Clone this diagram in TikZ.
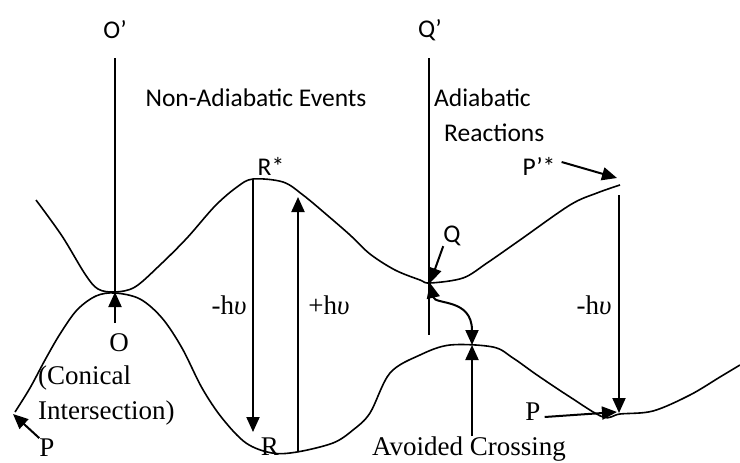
\documentclass[tikz,border=0pt]{standalone}
\usepackage{fontspec}
\setmainfont{Liberation Serif}
\newfontfamily\calfont{Carlito}
\usetikzlibrary{arrows.meta}

\begin{document}
\begin{tikzpicture}[x=1pt,y=-1pt,
    pes/.style={line width=1.6pt, line join=round},
    axis/.style={line width=1.6pt},
    arr/.style={line width=2pt, -{Triangle[length=15pt,width=13pt]}},
    dblarr/.style={line width=2pt, {Triangle[length=15pt,width=13pt]}-{Triangle[length=15pt,width=13pt]}},
    slab/.style={font=\calfont\fontsize{25.5}{29}\selectfont, inner sep=0pt},
    rlab/.style={font=\fontsize{27}{31}\selectfont, inner sep=0pt}]
  \useasboundingbox (0,0) rectangle (740,463);

  % points on the surfaces
  \coordinate (O) at (115,292);
  \coordinate (Rs) at (253,180);
  \coordinate (Rb) at (298,452);
  \coordinate (Q) at (430,283);
  \coordinate (AC) at (472,345);
  \coordinate (Ps) at (619,186);
  \coordinate (Pm) at (619,413);

  % upper surface
  \draw[pes] plot[smooth, tension=0.55] coordinates {(36,200) (62,236) (85,274) (98,289)
    (115,292) (135,287) (160,265) (187,238) (215,206) (237,187) (253,179) (283,182)
    (303,195) (327,215) (350,235) (370,254) (395,270) (420,280) (430,283) (463,278)
    (487,263) (520,240) (570,205) (597,193) (620,185)};
  % lower surface
  \draw[pes] plot[smooth, tension=0.55] coordinates {(15,412) (30,388) (45,360) (60,334)
    (77,310) (96,296) (115,293) (140,299) (162,318) (182,348) (202,388) (222,418)
    (246,443) (272,453) (297,452) (333,443) (353,430) (370,413) (390,373) (420,355)
    (450,345) (493,347) (513,358) (537,375) (570,397) (603,417) (620,414) (653,411)
    (690,395) (720,377) (740,365)};

  % vertical axes
  \node[slab] (Olab) at (115,30) {O’};
  \node[slab] (Qlab) at (430,30) {Q’};
  \coordinate (Otop) at (115,58);
  \coordinate (Qtop) at (429,58);
  \coordinate (Qbot) at (429,335);
  \draw[axis] (Otop) -- (O);
  \draw[axis] (Qtop) -- (Qbot);

  % region titles
  \node[slab] (nonad) at (256,98) {Non-Adiabatic Events};
  \node[slab, anchor=west] (adiab) at (434,98) {Adiabatic};
  \node[slab, anchor=west] (react) at (444,133) {Reactions};

  % labels
  \node[slab] (Rslab) at (271,166) {R*};
  \node[slab] (Pslab) at (539,166) {P’*};
  \node[slab] (Qlb) at (452,236) {Q};
  \node[rlab] (Olb) at (119,343) {O};
  \node[rlab, anchor=west] (con1) at (38,378) {(Conical};
  \node[rlab, anchor=west] (con2) at (38,413) {Intersection)};
  \node[rlab, anchor=base] (P1) at (47,456) {P};
  \node[rlab, anchor=base] (R1) at (270,455) {R};
  \node[rlab] (hv1) at (229,305) {-h\textit{υ}};
  \node[rlab] (hv2) at (329,305) {+h\textit{υ}};
  \node[rlab] (hv3) at (594,305) {-h\textit{υ}};
  \node[rlab] (P2) at (533,412) {P};
  \node[rlab, anchor=base] (avc) at (469,455) {Avoided Crossing};

  % arrows
  \draw[arr] (115,323) -- (O);
  \draw[arr] (P1.north west) -- (13,414);
  \draw[arr] (Rs) -- (253,432);
  \draw[arr] (Rb) -- (298,197);
  \draw[arr] (Qlb.south west) -- (Q);
  \draw[dblarr] (Q) .. controls (435,305) and (472,298) .. (AC);
  \draw[arr] (avc.north -| AC) -- (AC);
  \draw[arr] (Pslab.east) ++(6,-4) -- (617,178);
  \draw[arr] (619,195) -- (Pm);
  \draw[arr] (P2.east) ++(4,5) -- (617,412);
\end{tikzpicture}
\end{document}
